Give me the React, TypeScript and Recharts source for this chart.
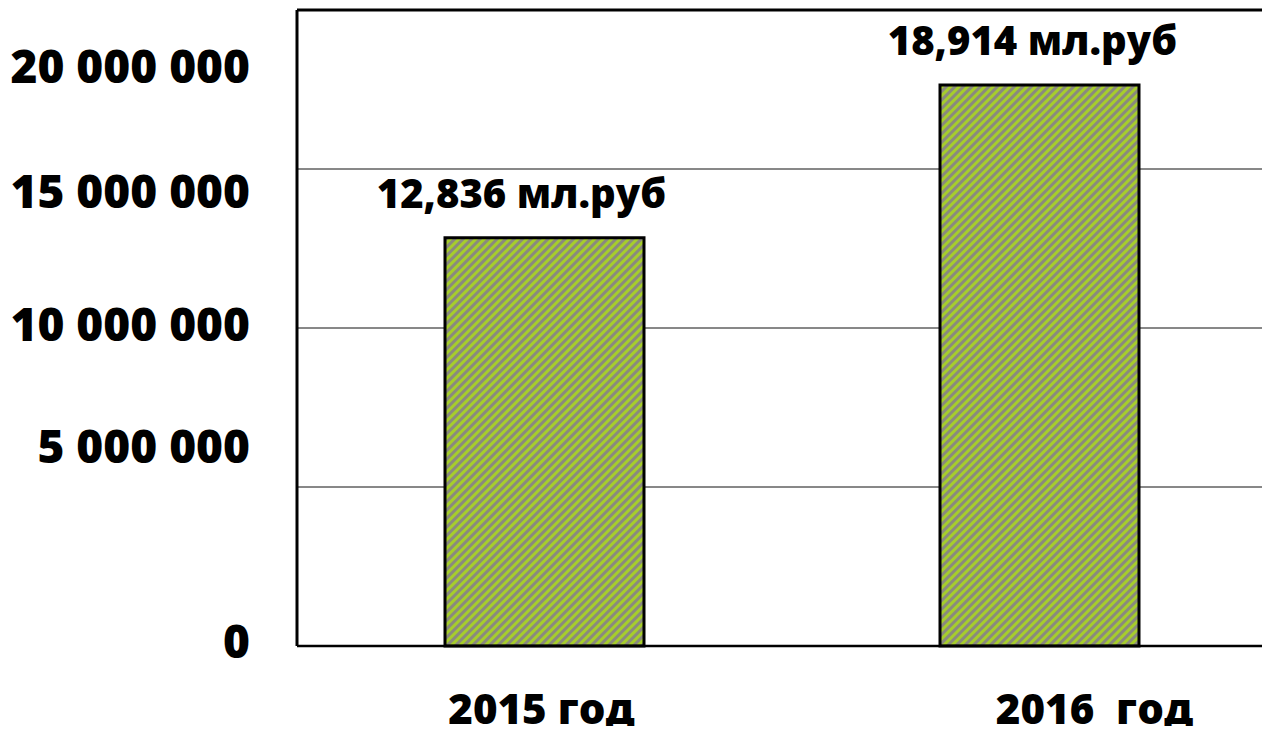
import { BarChart, Bar, XAxis, YAxis, CartesianGrid, LabelList, ReferenceLine } from 'recharts'

const years = ['2015 год', '2016  год']
const amounts = [12836000, 17640000]
const valueLabels = ['12,836 мл.руб', '18,914 мл.руб']
const yTicks = [0, 5000000, 10000000, 15000000, 20000000]

// label nudges so the text sits where the original slide put it
const yTickDy = [-6, -42, -5, 21, 55]
const xTickDx = [-3, 55]
const labelDx = [-23, -7]

const FONT = '"Open Sans", "Noto Sans", sans-serif'

const data = years.map((y, i) => ({ year: y, amount: amounts[i], label: valueLabels[i] }))

const fmt = (v: number) => String(v).replace(/\B(?=(\d{3})+(?!\d))/g, ' ')

function YTick({ y, payload }: any) {
  const i = yTicks.indexOf(payload.value)
  return (
    <text x={250} y={y + (yTickDy[i] ?? 0)} textAnchor="end" dominantBaseline="central"
      fontFamily={FONT} fontWeight={800} fontSize={46} fill="#000">
      {fmt(payload.value)}
    </text>
  )
}

function XTick({ x, payload, index }: any) {
  return (
    <text x={x + (xTickDx[index] ?? 0)} y={707} textAnchor="middle" dominantBaseline="central"
      fontFamily={FONT} fontWeight={800} fontSize={42} fill="#000" style={{ whiteSpace: 'pre' }}>
      {payload.value}
    </text>
  )
}

function BarLabel({ x, y, width, value, index }: any) {
  return (
    <text x={x + width / 2 + (labelDx[index] ?? 0)} y={y - 30} textAnchor="middle"
      fontFamily={FONT} fontWeight={800} fontSize={40} fill="#000">
      {value}
    </text>
  )
}

export default function App() {
  return (
    <div style={{ margin: -8, width: 1270, height: 734, overflow: 'hidden', background: '#fff' }}>
      <BarChart width={1290} height={734} data={data}
        margin={{ top: 10, right: 3, bottom: 0, left: 0 }}>
        <defs>
          <pattern id="hatch" patternUnits="userSpaceOnUse" width={6} height={6} patternTransform="rotate(45)">
            <rect width={6} height={6} fill="#8a8a7e" />
            <rect width={3} height={6} fill="#a6cd2c" />
          </pattern>
        </defs>
        <CartesianGrid vertical={false} stroke="#111" strokeWidth={1} />
        <XAxis dataKey="year" height={88} tick={<XTick />} tickLine={false}
          axisLine={{ stroke: '#000', strokeWidth: 2.5 }} />
        <YAxis width={297} domain={[0, 20000000]} ticks={yTicks} tick={<YTick />}
          tickLine={false} axisLine={{ stroke: '#000', strokeWidth: 3 }} />
        <ReferenceLine y={20000000} stroke="#000" strokeWidth={3} />
        <Bar dataKey="amount" barSize={199} fill="url(#hatch)" stroke="#000" strokeWidth={3}
          isAnimationActive={false}>
          <LabelList dataKey="label" content={<BarLabel />} />
        </Bar>
      </BarChart>
    </div>
  )
}
